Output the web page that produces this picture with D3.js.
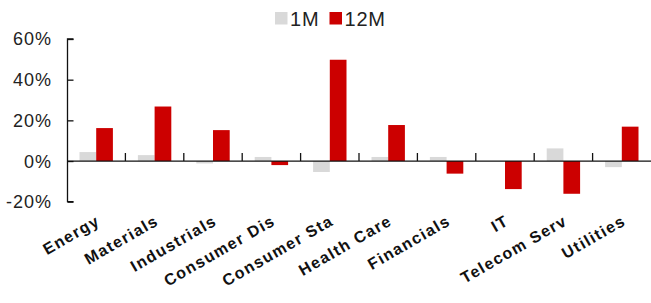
<!DOCTYPE html>
<html>
<head>
<meta charset="utf-8">
<script src="https://cdn.jsdelivr.net/npm/d3@7"></script>
<style>
  body { margin: 0; background: #fff; }
  text { font-family: "Liberation Sans", Arial, sans-serif; }
</style>
</head>
<body>
<div id="chart"></div>
<script>
// sector returns, %
let sectors = ["Energy", "Materials", "Industrials", "Consumer Dis", "Consumer Sta",
               "Health Care", "Financials", "IT", "Telecom Serv", "Utilities"];
let m1  = [4.4, 2.9, -1.2, 2.0, -5.4, 2.0, 2.0, 0.0, 6.2, -3.0];
let m12 = [16.2, 26.8, 15.2, -2.0, 49.8, 17.7, -6.2, -13.8, -16.1, 16.9];
let series = ["1M", "12M"];
let colors = ["#d9d9d9", "#cc0000"];
let yTicks = [-20, 0, 20, 40, 60];

let width = 651, height = 303;
let svg = d3.select("#chart").append("svg").attr("width", width).attr("height", height);

let x = d3.scaleBand().domain(sectors).range([67, 651]);
let xs = d3.scaleBand().domain(series).range([0, 33.4]);
let y = d3.scaleLinear().domain([-20, 60]).range([201.7, 39]);

let rows = sectors.map((s, i) => ({ sector: s, vals: [m1[i], m12[i]] }));

// bars
let g = svg.append("g").selectAll("g").data(rows).join("g")
  .attr("transform", d => "translate(" + (x(d.sector) + (x.bandwidth() - 33.4) / 2) + ",0)");

g.selectAll("rect").data(d => d.vals.map((v, j) => ({ k: series[j], v: v, j: j })))
  .join("rect")
  .attr("x", d => xs(d.k))
  .attr("width", xs.bandwidth())
  .attr("y", d => y(Math.max(0, d.v)))
  .attr("height", d => Math.abs(y(d.v) - y(0)))
  .attr("fill", d => colors[d.j]);

// y axis
let yAxis = d3.axisRight(y).tickValues(yTicks).tickSize(6).tickFormat(d => "");
let ya = svg.append("g").attr("transform", "translate(67.5,0)").call(yAxis);
ya.select(".domain").attr("d", "M6," + y(60) + "H0V" + y(-20) + "H6");
ya.selectAll("line, path").attr("stroke", "#111").attr("stroke-width", 1.3);

svg.append("g").selectAll("text").data(yTicks).join("text")
  .attr("x", 52).attr("y", d => y(d)).attr("dy", "0.36em")
  .attr("text-anchor", "end").attr("font-size", 18).attr("letter-spacing", 1)
  .attr("fill", "#222")
  .text(d => d + "%");

// zero line with category ticks
let xa = svg.append("g").attr("transform", "translate(0," + y(0) + ")");
xa.append("line").attr("x1", 67).attr("x2", 651)
  .attr("stroke", "#111").attr("stroke-width", 1.3);
xa.selectAll(".tk").data(sectors.slice(1)).join("line").attr("class", "tk")
  .attr("x1", d => x(d)).attr("x2", d => x(d))
  .attr("y1", 0).attr("y2", -8)
  .attr("stroke", "#111").attr("stroke-width", 1.3);

// rotated category labels
svg.append("g").selectAll("text").data(sectors).join("text")
  .attr("transform", d => "translate(" + (x(d) + x.bandwidth() / 2 + 5) + ",224) rotate(-30)")
  .attr("text-anchor", "end")
  .attr("font-size", 16).attr("font-weight", "bold").attr("letter-spacing", 1.4)
  .attr("fill", "#111")
  .text(d => d);

// legend
let lg = svg.append("g").selectAll("g").data(series).join("g")
  .attr("transform", (d, i) => "translate(" + [275, 329.5][i] + ",12)");
lg.append("rect").attr("width", 12.5).attr("height", 12.5).attr("fill", (d, i) => colors[i]);
lg.append("text").attr("x", 15).attr("y", 6.5).attr("dy", "0.36em")
  .attr("font-size", 20).attr("letter-spacing", 0.8).attr("fill", "#222").text(d => d);
</script>
</body>
</html>
